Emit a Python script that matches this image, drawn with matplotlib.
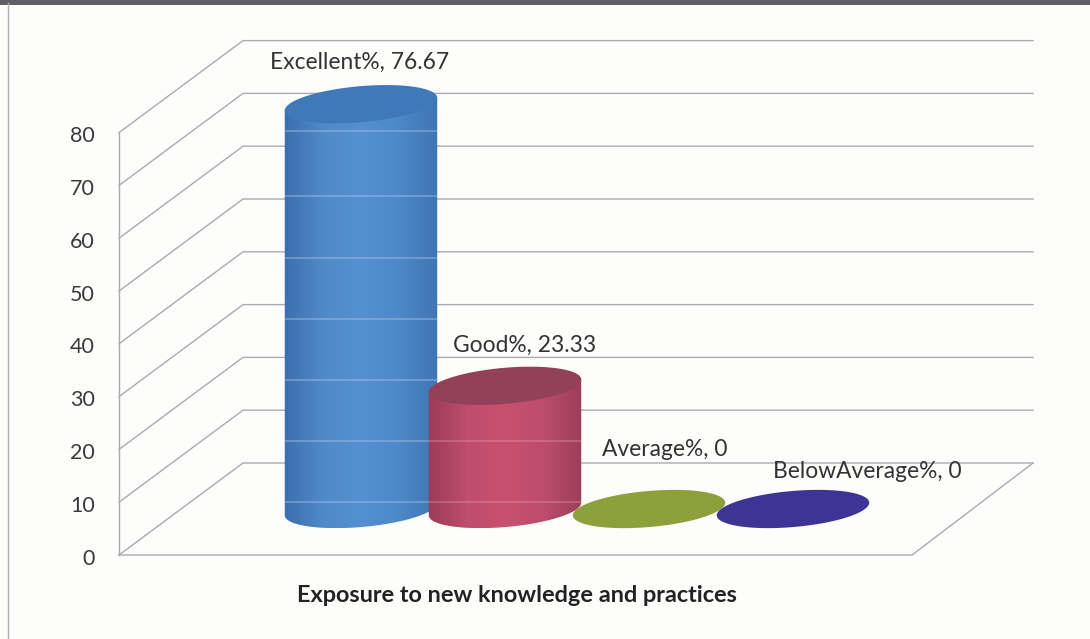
import numpy as np
import matplotlib
import matplotlib.pyplot as plt
from matplotlib.colors import LinearSegmentedColormap
from matplotlib.patches import Polygon

matplotlib.use("Agg")
plt.rcParams["font.family"] = ["Lato", "DejaVu Sans"]

categories = ["Excellent%", "Good%", "Average%", "BelowAverage%"]
values = [76.67, 23.33, 0, 0]
y_ticks = [0, 10, 20, 30, 40, 50, 60, 70, 80]
chart_title = "Exposure to new knowledge and practices"

side_colors = [
    ["#3c6fae", "#4f89c8", "#5490d0", "#4d88c8", "#3f76b4"],
    ["#9a3c58", "#bf4d6d", "#c9506f", "#bd4d6c", "#9c3f5a"],
    ["#8da03c"] * 5,
    ["#3d3496"] * 5,
]
top_colors = ["#3f79ba", "#93405a", "#8da03c", "#3d3496"]
label_pos = [(270, 62), (453, 345), (602, 449), (773, 472)]
band_levels = [10, 21.6, 33.2, 44.7, 56.3, 67.9, 80.3]

PX_PER_UNIT = 5.28
FLOOR_FRONT = 555
FLOOR_BACK = 463
DEPTH_X = 122
GRID = "#aaaab2"

ELL_A, ELL_B, ELL_TILT = 76.5, 18.0, np.radians(5)

fig = plt.figure(figsize=(10.9, 6.39), dpi=100, facecolor="#fdfdfb")
ax = fig.add_axes([0, 0, 1, 1])
ax.set_xlim(0, 1090)
# y axis is in chart units, so the marks are placed by their values
ax.set_ylim(-(639 - FLOOR_FRONT) / PX_PER_UNIT, FLOOR_FRONT / PX_PER_UNIT)
ax.axis("off")

back_offset = (FLOOR_FRONT - FLOOR_BACK) / PX_PER_UNIT
base_offset = (FLOOR_FRONT - 509) / PX_PER_UNIT

# photocopy edges of the page
ax.plot([0, 1090], [FLOOR_FRONT / PX_PER_UNIT - 0.3] * 2, color="#5f5f64", lw=3.6)
ax.plot([8, 8], [-16, FLOOR_FRONT / PX_PER_UNIT - 0.6], color="#b0b0b8", lw=1.0)

# walls and floor
for v in y_ticks:
    ax.plot(
        [119, 119 + DEPTH_X + 2, 1033],
        [v, v + back_offset, v + back_offset],
        color=GRID,
        lw=1.0,
    )
    ax.text(95, v - 0.7, str(v), ha="right", va="center", fontsize=15.5, color="#3a3a3a")
ax.plot([119, 119], [0, y_ticks[-1]], color=GRID, lw=1.0)
ax.plot([119, 912, 1033], [0, 0, back_offset], color=GRID, lw=1.0)


def ellipse_points(cx, v, t):
    x = cx + ELL_A * np.cos(t) * np.cos(ELL_TILT) - ELL_B * np.sin(t) * np.sin(ELL_TILT)
    y = ELL_A * np.cos(t) * np.sin(ELL_TILT) + ELL_B * np.sin(t) * np.cos(ELL_TILT)
    return x, v + base_offset + y / PX_PER_UNIT


t_right = np.arctan2(-ELL_B * np.sin(ELL_TILT), ELL_A * np.cos(ELL_TILT))
full = np.linspace(0, 2 * np.pi, 240)
lower = np.linspace(t_right, t_right - np.pi, 120)

for i, value in enumerate(values):
    cx = 361 + 144 * i
    z = 3 + i

    if value > 0:
        x_low, y_low = ellipse_points(cx, 0, lower)
        x_top, y_top = ellipse_points(cx, value, np.array([t_right + np.pi, t_right]))
        body = Polygon(
            np.column_stack([np.r_[x_low, x_top], np.r_[y_low, y_top]]),
            closed=True,
            facecolor="none",
            edgecolor="none",
            zorder=z,
        )
        ax.add_patch(body)
        cmap = LinearSegmentedColormap.from_list("side", side_colors[i])
        img = ax.imshow(
            np.linspace(0, 1, 160).reshape(1, -1),
            cmap=cmap,
            extent=[cx - 77, cx + 77, y_low.min(), value + base_offset + 3],
            aspect="auto",
            zorder=z,
        )
        img.set_clip_path(body)

        # pale bands scanned across the cylinder sides
        for band in band_levels:
            line = ax.plot(
                [cx - 77, cx + 77],
                [band, band],
                color="#c3d2ee" if i == 0 else "#e7a3b3",
                lw=1.2,
                alpha=0.4,
                zorder=z,
            )[0]
            line.set_clip_path(body)

    x_cap, y_cap = ellipse_points(cx, value, full)
    ax.fill(x_cap, y_cap, color=top_colors[i], zorder=z + 0.1, lw=0)

    ax.text(
        label_pos[i][0],
        (FLOOR_FRONT - label_pos[i][1]) / PX_PER_UNIT,
        f"{categories[i]}, {value:g}",
        ha="left",
        va="center",
        fontsize=16.4,
        color="#333333",
        zorder=10,
    )

ax.text(
    517,
    (FLOOR_FRONT - 595) / PX_PER_UNIT,
    chart_title,
    ha="center",
    va="center",
    fontsize=16.9,
    fontweight="bold",
    color="#222222",
)

fig.savefig("out.png", dpi=100, facecolor=fig.get_facecolor())
